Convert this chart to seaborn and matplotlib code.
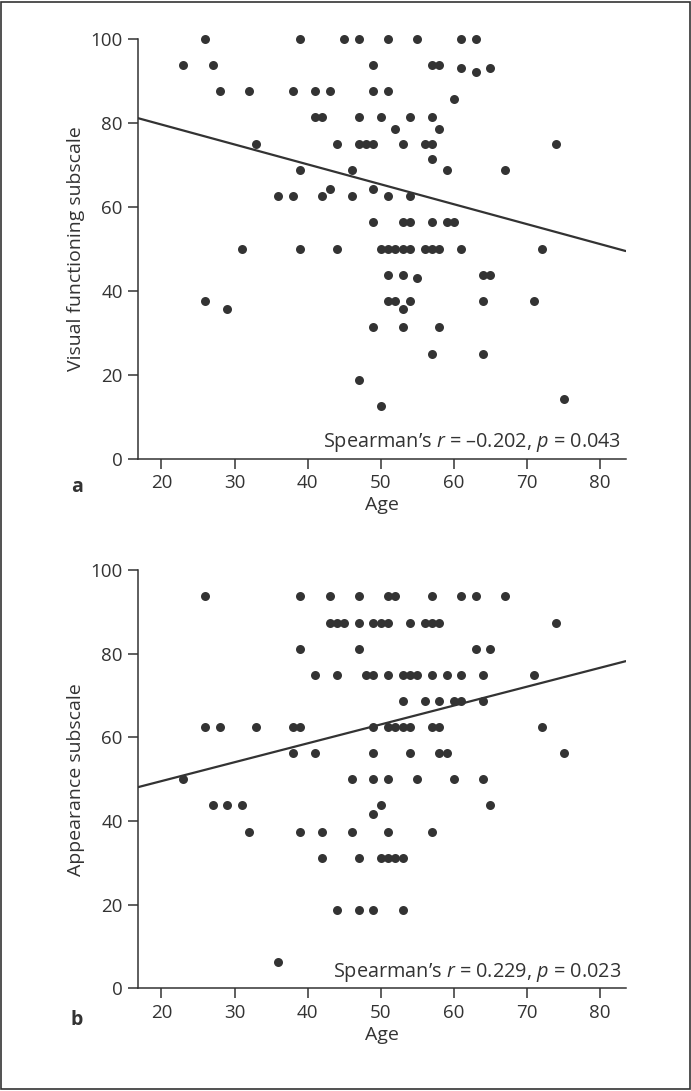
import matplotlib
matplotlib.use("Agg")
import matplotlib.pyplot as plt
import matplotlib.patches as patches
import seaborn as sns
import pandas as pd

# Panel a: age vs visual functioning subscale (one line per score level)
visual_age = [
    26, 39, 45, 47, 51, 55, 61, 63,
    23, 27, 49, 57, 58,
    61, 65, 63,
    28, 32, 38, 41, 43, 49, 51,
    60,
    41, 42, 47, 50, 54, 57,
    52, 58,
    33, 44, 47, 48, 49, 53, 56, 57, 74,
    57,
    39, 46, 59, 67,
    43, 49,
    36, 38, 42, 46, 51, 54,
    49, 53, 54, 57, 59, 60,
    31, 39, 44, 50, 51, 52, 53, 54, 56, 57, 58, 61, 72,
    51, 53, 64, 65,
    55,
    26, 51, 52, 54, 64, 71,
    29, 53,
    49, 53, 58,
    57, 64,
    47,
    75,
    50,
]
visual_score = [
    100, 100, 100, 100, 100, 100, 100, 100,
    93.75, 93.75, 93.75, 93.75, 93.75,
    93, 93, 92,
    87.5, 87.5, 87.5, 87.5, 87.5, 87.5, 87.5,
    85.7,
    81.25, 81.25, 81.25, 81.25, 81.25, 81.25,
    78.6, 78.6,
    75, 75, 75, 75, 75, 75, 75, 75, 75,
    71.4,
    68.75, 68.75, 68.75, 68.75,
    64.3, 64.3,
    62.5, 62.5, 62.5, 62.5, 62.5, 62.5,
    56.25, 56.25, 56.25, 56.25, 56.25, 56.25,
    50, 50, 50, 50, 50, 50, 50, 50, 50, 50, 50, 50, 50,
    43.75, 43.75, 43.75, 43.75,
    42.9,
    37.5, 37.5, 37.5, 37.5, 37.5, 37.5,
    35.7, 35.7,
    31.25, 31.25, 31.25,
    25, 25,
    18.75,
    14.3,
    12.5,
]

# Panel b: age vs appearance subscale
appear_age = [
    26, 39, 43, 47, 51, 52, 57, 61, 63, 67,
    43, 44, 45, 47, 49, 50, 51, 54, 56, 57, 58, 74,
    39, 47, 63, 65,
    41, 44, 48, 49, 51, 53, 54, 55, 57, 59, 61, 64, 71,
    53, 56, 58, 60, 61, 64,
    26, 28, 33, 38, 39, 49, 51, 52, 53, 54, 57, 58, 72,
    38, 41, 49, 54, 58, 59, 75,
    23, 46, 49, 51, 55, 60, 64,
    27, 29, 31, 50, 65,
    49,
    32, 39, 42, 46, 51, 57,
    42, 47, 50, 51, 52, 53,
    44, 47, 49, 53,
    36,
]
appear_score = [
    93.75, 93.75, 93.75, 93.75, 93.75, 93.75, 93.75, 93.75, 93.75, 93.75,
    87.5, 87.5, 87.5, 87.5, 87.5, 87.5, 87.5, 87.5, 87.5, 87.5, 87.5, 87.5,
    81.25, 81.25, 81.25, 81.25,
    75, 75, 75, 75, 75, 75, 75, 75, 75, 75, 75, 75, 75,
    68.75, 68.75, 68.75, 68.75, 68.75, 68.75,
    62.5, 62.5, 62.5, 62.5, 62.5, 62.5, 62.5, 62.5, 62.5, 62.5, 62.5, 62.5, 62.5,
    56.25, 56.25, 56.25, 56.25, 56.25, 56.25, 56.25,
    50, 50, 50, 50, 50, 50, 50,
    43.75, 43.75, 43.75, 43.75, 43.75,
    41.7,
    37.5, 37.5, 37.5, 37.5, 37.5, 37.5,
    31.25, 31.25, 31.25, 31.25, 31.25, 31.25,
    18.75, 18.75, 18.75, 18.75,
    6.25,
]

panels = [
    ("a", visual_age, visual_score, "Visual functioning subscale",
     "Spearman\u2019s $r$ = \u20130.202, $p$ = 0.043"),
    ("b", appear_age, appear_score, "Appearance subscale",
     "Spearman\u2019s $r$ = 0.229, $p$ = 0.023"),
]

x_ticks = [20, 30, 40, 50, 60, 70, 80]
y_ticks = [0, 20, 40, 60, 80, 100]

ink = "#333333"

sns.set_theme(style="ticks")
plt.rcParams["font.family"] = ["Open Sans", "DejaVu Sans"]
plt.rcParams["mathtext.fontset"] = "custom"
plt.rcParams["mathtext.rm"] = "Open Sans"
plt.rcParams["mathtext.it"] = "Open Sans:italic"

fig = plt.figure(figsize=(6.91, 10.91), dpi=100)
boxes = [[0.1997, 0.5796, 0.7058, 0.3850], [0.1997, 0.0941, 0.7058, 0.3832]]
label_y = [1 - 487 / 1091, 1 - 1020 / 1091]

for (tag, ages, scores, ylab, note), box, ly in zip(panels, boxes, label_y):
    ax = fig.add_axes(box)
    df = pd.DataFrame({"Age": ages, "Score": scores})
    ax.set_xlim(16.8, 83.5)
    ax.set_ylim(0, 100)
    sns.scatterplot(data=df, x="Age", y="Score", ax=ax, color=ink, s=42,
                    linewidth=0, zorder=3, clip_on=False)
    sns.regplot(data=df, x="Age", y="Score", ax=ax, scatter=False, ci=None,
                truncate=False, line_kws={"color": ink, "lw": 1.6})
    ax.set_xlim(16.8, 83.5)
    ax.set_ylim(0, 100)
    ax.set_xticks(x_ticks)
    ax.set_yticks(y_ticks)
    sns.despine(ax=ax)
    for s in ("left", "bottom"):
        ax.spines[s].set_color(ink)
        ax.spines[s].set_linewidth(1.1)
    ax.tick_params(length=7, width=1.1, color=ink, labelsize=13.5,
                   labelcolor=ink, pad=4)
    ax.set_xlabel("Age", fontsize=14, color=ink, labelpad=3)
    ax.set_ylabel(ylab, fontsize=14, color=ink, labelpad=4)
    ax.text(0.99, 0.028, note, transform=ax.transAxes, ha="right",
            va="baseline", fontsize=14.3, color=ink)
    fig.text(77 / 691, ly, tag, fontsize=14, fontweight="bold", color=ink,
             ha="center", va="center")

fig.patches.append(patches.Rectangle((0.002, 0.0015), 0.996, 0.997,
                                     transform=fig.transFigure, fill=False,
                                     ec=ink, lw=1.2))

fig.savefig("out.png", dpi=100)
